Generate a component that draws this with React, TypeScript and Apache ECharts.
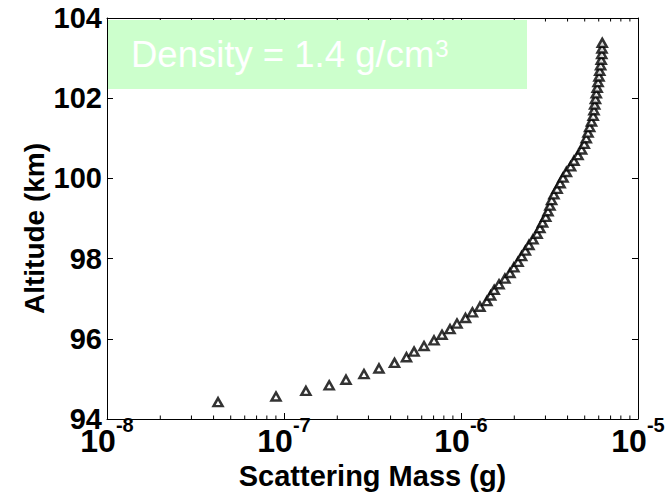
import React, { useEffect, useRef } from "react";
import * as echarts from "echarts";

// Altitude (km) of each plotted triangle
const altitudes: number[] = [
  94.42, 94.56, 94.70, 94.84, 94.98, 95.12, 95.26, 95.40, 95.54, 95.68,
  95.82, 95.96, 96.10, 96.24, 96.38, 96.52, 96.66, 96.80, 96.94, 97.08,
  97.22, 97.36, 97.50, 97.64, 97.78, 97.92, 98.06, 98.20, 98.34, 98.48,
  98.62, 98.76, 98.90, 99.04, 99.18, 99.32, 99.46, 99.60, 99.74, 99.88,
  100.02, 100.16, 100.30, 100.44, 100.58, 100.72, 100.86, 101.00, 101.14, 101.28,
  101.42, 101.56, 101.70, 101.84, 101.98, 102.12, 102.26, 102.40, 102.54, 102.68,
  102.82, 102.96, 103.10, 103.24, 103.38,
];

// Scattering mass (g) for each altitude
const masses: number[] = [
  4.24e-8, 9.01e-8, 1.33e-7, 1.80e-7, 2.24e-7, 2.83e-7, 3.44e-7, 4.21e-7, 4.92e-7, 5.43e-7,
  6.18e-7, 7.04e-7, 7.81e-7, 8.67e-7, 9.49e-7, 1.06e-6, 1.16e-6, 1.28e-6, 1.40e-6, 1.47e-6,
  1.54e-6, 1.64e-6, 1.77e-6, 1.89e-6, 1.99e-6, 2.10e-6, 2.20e-6, 2.31e-6, 2.42e-6, 2.55e-6,
  2.69e-6, 2.79e-6, 2.89e-6, 3.01e-6, 3.10e-6, 3.18e-6, 3.25e-6, 3.35e-6, 3.49e-6, 3.63e-6,
  3.77e-6, 3.94e-6, 4.16e-6, 4.35e-6, 4.58e-6, 4.80e-6, 4.97e-6, 5.10e-6, 5.22e-6, 5.33e-6,
  5.46e-6, 5.58e-6, 5.64e-6, 5.69e-6, 5.75e-6, 5.81e-6, 5.88e-6, 5.95e-6, 6.02e-6, 6.08e-6,
  6.15e-6, 6.20e-6, 6.24e-6, 6.26e-6, 6.28e-6,
];

const xDecades: number[] = [-8, -7, -6];
const minorMantissas: number[] = [2, 3, 4, 5, 6, 7, 8, 9];
const yTicks: number[] = [94, 96, 98, 100, 102, 104];

const xAxisTitle = "Scattering Mass (g)";
const yAxisTitle = "Altitude (km)";
const boxLabel = "Density = 1.4 g/cm";
const boxLabelSup = "3";

const FONT = "'Liberation Sans', Arial, Helvetica, sans-serif";

export default function App() {
  const ref = useRef<HTMLDivElement>(null);

  useEffect(() => {
    if (!ref.current) return;
    const chart = echarts.init(ref.current, undefined, { renderer: "svg" });

    const points = masses.map((m, i) => [m, altitudes[i]]);
    const minorTicks: number[][] = [];
    xDecades.forEach((d) =>
      minorMantissas.forEach((m) => minorTicks.push([m * Math.pow(10, d), yTicks[0]]))
    );

    const axisLine = { show: true, onZero: false, lineStyle: { color: "#000", width: 1 } };

    chart.setOption({
      animation: false,
      backgroundColor: "#fff",
      grid: { left: 107, right: 30, top: 18, bottom: 76, containLabel: false, outerBoundsMode: "none" },
      xAxis: [
        {
          type: "log",
          logBase: 10,
          min: 1e-8,
          max: 1e-5,
          position: "bottom",
          axisLine,
          axisTick: { show: true, inside: true, length: 6, lineStyle: { color: "#000" } },
          splitLine: { show: false },
          axisLabel: {
            margin: -4,
            formatter: (v: number) => `{a|10}{b|${Math.round(Math.log10(v))}}`,
            rich: {
              a: { fontFamily: FONT, fontWeight: "bold", fontSize: 32, color: "#000", lineHeight: 42, verticalAlign: "bottom" },
              b: { fontFamily: FONT, fontWeight: "bold", fontSize: 20, color: "#000", verticalAlign: "top" },
            },
          },
          name: xAxisTitle,
          nameLocation: "middle",
          nameGap: 42,
          nameMoveOverlap: false,
          nameTextStyle: { fontFamily: FONT, fontWeight: "bold", fontSize: 29, color: "#000" },
        },
        {
          type: "log",
          logBase: 10,
          min: 1e-8,
          max: 1e-5,
          position: "top",
          axisLine,
          axisTick: { show: true, inside: true, length: 6, lineStyle: { color: "#000" } },
          axisLabel: { show: false },
          splitLine: { show: false },
        },
      ],
      yAxis: [
        {
          type: "value",
          min: 94,
          max: 104,
          interval: 2,
          position: "left",
          axisLine,
          axisTick: { show: true, inside: true, length: 6, lineStyle: { color: "#000" } },
          splitLine: { show: false },
          axisLabel: {
            margin: 5,
            fontFamily: FONT,
            fontWeight: "bold",
            fontSize: 29,
            lineHeight: 24,
            color: "#000",
          },
          name: yAxisTitle,
          nameLocation: "middle",
          nameGap: 59,
          nameRotate: 90,
          nameMoveOverlap: false,
          nameTextStyle: { fontFamily: FONT, fontWeight: "bold", fontSize: 28, color: "#000", padding: [0, 20, 0, 0] },
        },
        {
          type: "value",
          min: 94,
          max: 104,
          interval: 2,
          position: "right",
          axisLine,
          axisTick: { show: true, inside: true, length: 6, lineStyle: { color: "#000" } },
          axisLabel: { show: false },
          splitLine: { show: false },
        },
      ],
      graphic: [
        {
          type: "rect",
          z: 100,
          shape: { x: 108, y: 20, width: 419, height: 69 },
          style: { fill: "#ccffcc" },
        },
        {
          type: "text",
          z: 101,
          x: 131,
          y: 54.5,
          style: {
            text: `{a|${boxLabel}}{b|${boxLabelSup}}`,
            verticalAlign: "middle",
            align: "left",
            rich: {
              a: { fontFamily: FONT, fontSize: 36.5, fill: "#fff", lineHeight: 40 },
              b: { fontFamily: FONT, fontSize: 24, fill: "#fff", verticalAlign: "top", padding: [2, 0, 0, 1] },
            },
          },
        },
      ],
      series: [
        {
          type: "custom",
          xAxisIndex: 0,
          yAxisIndex: 0,
          silent: true,
          data: minorTicks,
          renderItem: (params: any, api: any) => {
            const x = api.coord([api.value(0), api.value(1)])[0];
            const cs = params.coordSys;
            const yb = cs.y + cs.height;
            return {
              type: "group",
              children: [
                { type: "line", shape: { x1: x, y1: yb, x2: x, y2: yb - 3.5 }, style: { stroke: "#000", lineWidth: 1 } },
                { type: "line", shape: { x1: x, y1: cs.y, x2: x, y2: cs.y + 3.5 }, style: { stroke: "#000", lineWidth: 1 } },
              ],
            };
          },
        },
        {
          type: "scatter",
          xAxisIndex: 0,
          yAxisIndex: 0,
          data: points,
          symbol: "triangle",
          symbolSize: [9, 8],
          itemStyle: { color: "#fff", borderColor: "#000", borderWidth: 2.5 },
          z: 5,
        },
      ],
    });

    return () => chart.dispose();
  }, []);

  return <div ref={ref} style={{ position: "fixed", left: 0, top: 0, width: 668, height: 495 }} />;
}
